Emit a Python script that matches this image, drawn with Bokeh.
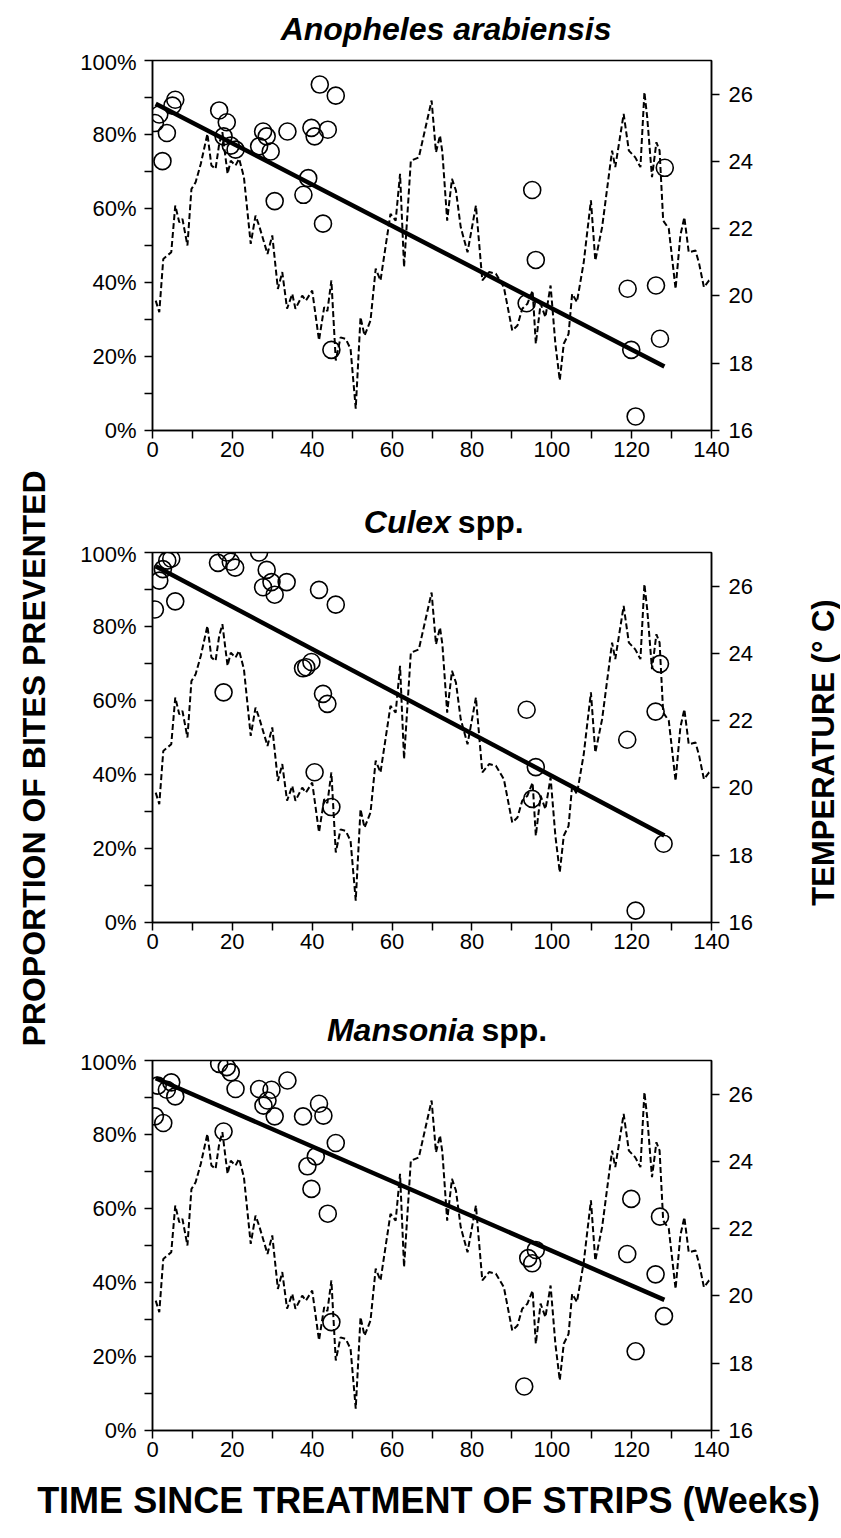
import math
from bokeh.plotting import figure
from bokeh.models import Range1d, LinearAxis, FixedTicker, PrintfTickFormatter, Label
from bokeh.layouts import row, column
from bokeh.embed import file_html
from bokeh.resources import INLINE

# ---------------- data ----------------
temp_weeks = [0.8, 1.7, 2.7, 4.7, 5.7, 6.7, 7.5, 8.75, 9.75, 10.8, 12.1, 13.75, 14.75, 15.8,
              16.7, 17.5, 18.8, 19.6, 20.8, 21.7, 22.9, 24.6, 25.8, 26.7, 28.8, 30.0, 31.4,
              32.5, 33.7, 35.0, 35.8, 37.5, 38.4, 40.0, 41.7, 43.0, 43.8, 44.8, 45.9, 47.1,
              48.4, 49.6, 50.9, 52.1, 53.1, 54.6, 55.9, 57.1, 59.6, 60.9, 62.0, 63.0, 64.7,
              66.7, 69.9, 71.0, 72.0, 72.6, 73.8, 75.0, 76.0, 77.2, 78.9, 81.0, 82.6, 84.3,
              86.0, 88.0, 90.1, 91.4, 92.6, 93.9, 95.2, 96.0, 97.2, 98.4, 99.7, 100.9, 102.0,
              103.0, 104.2, 105.1, 106.3, 108.0, 109.8, 110.9, 112.6, 115.1, 115.9, 118.0,
              119.3, 120.9, 122.2, 123.2, 123.9, 125.1, 126.2, 127.0, 127.9, 129.3, 131.0,
              132.2, 133.2, 134.3, 136.0, 136.9, 138.1, 139.4, 140.0]
temp_c = [19.86, 19.52, 21.10, 21.30, 22.69, 22.19, 22.29, 21.50, 23.18, 23.38, 23.93, 24.82,
          23.88, 23.78, 24.52, 24.87, 23.63, 24.02, 23.88, 24.08, 23.53, 21.55, 22.39, 22.09,
          21.25, 21.80, 20.21, 20.71, 19.62, 20.06, 19.62, 20.01, 19.86, 20.16, 18.68, 19.67,
          19.55, 20.46, 18.08, 18.77, 18.72, 18.43, 16.65, 19.37, 18.82, 19.27, 20.81, 20.46,
          22.44, 22.24, 23.63, 20.86, 24.02, 24.12, 25.81, 24.27, 24.77, 24.27, 22.24, 23.48,
          23.13, 22.04, 21.30, 22.69, 20.46, 20.71, 20.66, 20.26, 18.97, 19.12, 19.62, 19.77,
          20.16, 18.58, 19.77, 19.37, 20.31, 18.58, 17.49, 18.58, 18.87, 20.06, 19.82, 21.00,
          22.84, 21.05, 22.04, 24.32, 23.83, 25.41, 24.32, 24.12, 23.83, 26.06, 25.31, 23.53,
          24.57, 24.32, 22.24, 22.00, 20.21, 21.80, 22.34, 21.30, 21.35, 20.96, 20.26, 20.46,
          20.50]

anoph_weeks = [0.6, 1.7, 3.6, 2.5, 5.0, 5.7, 16.7, 18.6, 17.8, 19.6, 20.8, 26.7, 27.7, 28.6,
               29.6, 30.6, 33.8, 37.8, 39.0, 39.8, 40.6, 41.9, 42.7, 43.9, 45.9, 44.8,
               95.1, 96.0, 93.7, 119.0, 126.1, 128.3, 127.1, 119.9, 121.0]
anoph_pct = [83.1, 85.4, 80.4, 72.8, 87.8, 89.4, 86.5, 83.3, 79.5, 77.0, 75.9, 76.8, 80.8, 79.5,
             75.4, 62.0, 80.8, 63.7, 68.2, 81.8, 79.5, 93.5, 55.9, 81.3, 90.5, 21.8,
             65.0, 46.1, 34.4, 38.3, 39.2, 71.0, 24.8, 21.8, 3.8]

culex_weeks = [0.6, 1.7, 2.6, 3.7, 4.7, 5.7, 16.4, 18.6, 19.6, 20.7, 17.8, 26.7, 28.6, 27.7,
               29.8, 30.6, 33.6, 41.7, 45.9, 37.7, 38.5, 39.8, 42.7, 43.8, 40.6, 44.8,
               93.7, 96.0, 95.1, 118.9, 126.0, 127.1, 128.0, 121.0]
culex_pct = [84.6, 92.4, 95.5, 97.8, 98.3, 86.8, 97.2, 100.0, 97.5, 95.9, 62.2, 100.0, 95.3, 90.6,
             92.0, 88.6, 92.0, 89.9, 85.9, 68.7, 69.0, 70.4, 61.8, 59.1, 40.6, 31.2,
             57.5, 42.0, 33.4, 49.4, 57.0, 69.9, 21.3, 3.2]

mans_weeks = [0.6, 2.7, 1.3, 3.6, 4.7, 5.7, 16.7, 18.6, 19.6, 20.8, 17.8, 26.7, 29.8, 28.8,
              27.8, 30.6, 33.8, 37.7, 41.7, 42.8, 45.9, 40.9, 38.8, 39.8, 43.9, 44.8,
              96.0, 94.1, 95.1, 93.1, 119.9, 118.9, 127.1, 126.0, 128.1, 121.0]
mans_pct = [84.9, 83.1, 93.2, 92.1, 94.1, 90.3, 99.1, 98.2, 96.8, 92.3, 80.8, 92.3, 92.1, 89.2,
            87.8, 84.9, 94.6, 84.9, 88.3, 85.1, 77.7, 74.1, 71.4, 65.3, 58.6, 29.3,
            48.8, 46.6, 45.2, 11.9, 62.6, 47.7, 57.8, 42.2, 30.9, 21.4]

trend_weeks = [0.8, 128.2]
anoph_trend = [88.3, 17.3]
culex_trend = [96.3, 23.5]
mans_trend = [95.2, 35.3]

x_ticks = [0, 20, 40, 60, 80, 100, 120, 140]
x_minor = [10, 30, 50, 70, 90, 110, 130]
pct_ticks = [0, 20, 40, 60, 80, 100]
pct_minor = [10, 30, 50, 70, 90]
temp_ticks = [16, 18, 20, 22, 24, 26]

# ---------------- layout / styling ----------------
FONT = "Liberation Sans"
TICK_SIZE = "22px"
TITLE_PX = 32
TOTAL_W = 840
LEFT_W = 55
BORDER_L = 97
FRAME_W = 559
BORDER_R = 60
PANEL_W = BORDER_L + FRAME_W + BORDER_R
RIGHT_W = TOTAL_W - LEFT_W - PANEL_W
FRAME_H = 370
TOP_B = 11


def style_axis(ax, ticker, standoff, formatter=None):
    ax.ticker = ticker
    if formatter is not None:
        ax.formatter = formatter
    ax.axis_line_color = "black"
    ax.axis_line_width = 1.5
    ax.major_tick_line_color = "black"
    ax.major_tick_line_width = 1.5
    ax.minor_tick_line_color = "black"
    ax.minor_tick_line_width = 1.5
    ax.major_tick_in = 0
    ax.major_tick_out = 8
    ax.minor_tick_in = 0
    ax.minor_tick_out = 8
    ax.major_label_standoff = standoff
    ax.major_label_text_font = FONT
    ax.major_label_text_font_size = TICK_SIZE
    ax.major_label_text_color = "black"


def make_panel(weeks, pct, trend, bottom):
    p = figure(width=PANEL_W, height=TOP_B + FRAME_H + bottom,
               x_range=Range1d(0, 140), y_range=Range1d(0, 100),
               output_backend="svg", toolbar_location=None,
               min_border_left=BORDER_L, min_border_right=BORDER_R,
               min_border_top=TOP_B, min_border_bottom=bottom)
    p.extra_y_ranges = {"temp": Range1d(16, 27)}
    p.grid.visible = False
    p.outline_line_color = "black"
    p.outline_line_width = 1.5
    p.background_fill_color = "white"
    p.border_fill_color = "white"

    style_axis(p.xaxis[0], FixedTicker(ticks=x_ticks, minor_ticks=x_minor), 3)
    style_axis(p.yaxis[0], FixedTicker(ticks=pct_ticks, minor_ticks=pct_minor), 8,
               PrintfTickFormatter(format="%d%%"))
    rax = LinearAxis(y_range_name="temp")
    style_axis(rax, FixedTicker(ticks=temp_ticks, minor_ticks=[]), 9)
    p.add_layout(rax, "right")

    p.line(temp_weeks, temp_c, y_range_name="temp", line_color="black",
           line_width=2.0, line_dash="6 3")
    p.line(trend_weeks, trend, line_color="black", line_width=4.5)
    p.scatter(weeks, pct, marker="circle", size=17, fill_color=None,
              line_color="black", line_width=1.6)
    return p


def text_strip(w, h, labels):
    s = figure(width=w, height=h, x_range=Range1d(0, w), y_range=Range1d(0, h),
               output_backend="svg", toolbar_location=None, x_axis_type=None,
               y_axis_type=None, min_border=0)
    s.grid.visible = False
    s.outline_line_color = None
    s.background_fill_color = "white"
    s.border_fill_color = "white"
    for lab in labels:
        s.add_layout(lab)
    return s


def title_strip(h, parts, yc):
    cx = 431 - LEFT_W
    size = "%dpx" % TITLE_PX
    labs = []
    if len(parts) == 1:
        labs.append(Label(x=cx, y=yc, text=parts[0][0], text_font=FONT,
                          text_font_style=parts[0][1], text_font_size=size,
                          text_align="center", text_baseline="middle", text_color="black"))
    else:
        (t1, s1, e1), (t2, s2, e2) = parts
        # e1, e2: widths in em of the two words (Arial metrics); one space between them
        space = 0.278
        total = e1 + space + e2
        left_edge = cx - total / 2 * TITLE_PX
        labs.append(Label(x=left_edge + e1 * TITLE_PX, y=yc, text=t1, text_font=FONT,
                          text_font_style=s1, text_font_size=size, text_align="right",
                          text_baseline="middle", text_color="black"))
        labs.append(Label(x=left_edge + (e1 + space) * TITLE_PX, y=yc, text=t2, text_font=FONT,
                          text_font_style=s2, text_font_size=size, text_align="left",
                          text_baseline="middle", text_color="black"))
    return text_strip(PANEL_W, h, labs)


P_BOTTOM = 50
P3_BOTTOM = 45
T1_H = 60 - TOP_B
t1 = title_strip(T1_H, [("Anopheles arabiensis", "bold italic")], T1_H - 28)
p1 = make_panel(anoph_weeks, anoph_pct, anoph_trend, P_BOTTOM)
y_p1_end = T1_H + TOP_B + FRAME_H + P_BOTTOM
T2_H = 552 - TOP_B - y_p1_end
t2 = title_strip(T2_H, [("Culex", "bold italic", 2.723), ("spp.", "bold", 2.056)],
                 T2_H - (521 - y_p1_end))
p2 = make_panel(culex_weeks, culex_pct, culex_trend, P_BOTTOM)
y_p2_end = 552 + FRAME_H + P_BOTTOM
T3_H = 1060 - TOP_B - y_p2_end
t3 = title_strip(T3_H, [("Mansonia", "bold italic", 4.612), ("spp.", "bold", 2.056)],
                 T3_H - (1029 - y_p2_end))
p3 = make_panel(mans_weeks, mans_pct, mans_trend, P3_BOTTOM)

col_h = 1060 + FRAME_H + P3_BOTTOM

left = text_strip(LEFT_W, col_h, [
    Label(x=33, y=col_h - 758, text="PROPORTION OF BITES PREVENTED", angle=math.pi / 2,
          text_font=FONT, text_font_style="bold", text_font_size="32px",
          text_align="center", text_baseline="middle", text_color="black")])
right = text_strip(RIGHT_W, col_h, [
    Label(x=823 - LEFT_W - PANEL_W, y=col_h - 752, text="TEMPERATURE (° C)",
          angle=math.pi / 2, text_font=FONT, text_font_style="bold", text_font_size="31px",
          text_align="center", text_baseline="middle", text_color="black")])

bottom_h = 1536 - col_h
bottom = text_strip(TOTAL_W, bottom_h, [
    Label(x=428, y=bottom_h - (1500 - col_h), text="TIME SINCE TREATMENT OF STRIPS (Weeks)",
          text_font=FONT, text_font_style="bold", text_font_size="36px",
          text_align="center", text_baseline="middle", text_color="black")])

layout = column(row(left, column(t1, p1, t2, p2, t3, p3), right), bottom)
open("out.html", "w").write(file_html(layout, INLINE))
